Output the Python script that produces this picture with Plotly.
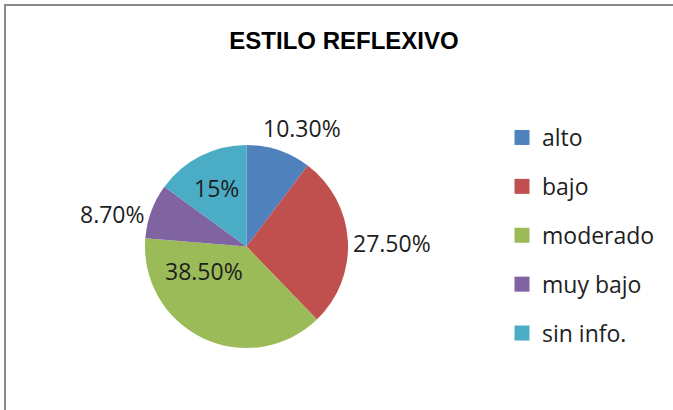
import plotly.graph_objects as go

# data
categories = ["alto", "bajo", "moderado", "muy bajo", "sin info."]
percentages = [10.3, 27.5, 38.5, 8.7, 15.0]
colors = ["#4F81BD", "#C0504D", "#9BBB59", "#8064A2", "#4BACC6"]

# where each percentage label sits (pixel centre in the 673x410 canvas), same order as categories
label_pos = [(302, 128), (392, 243), (204, 271), (112, 214), (216, 188)]

W, H = 673, 410
FONT = "Open Sans, Lato, sans-serif"


def fmt_pct(v):
    # the chart shows whole numbers without decimals (15%) and the rest with two
    return f"{v:.0f}%" if v == int(v) else f"{v:.2f}%"


fig = go.Figure()

fig.add_trace(go.Pie(
    labels=categories,
    values=percentages,
    sort=False,
    direction="clockwise",
    rotation=0,
    marker=dict(colors=colors, line=dict(width=0)),
    textinfo="none",
    hoverinfo="label+percent",
    showlegend=False,
    domain=dict(x=[145 / W, 348 / W], y=[62 / H, 265 / H]),
))

# legend entries (square swatches, one group each so the rows can be spaced out)
for name, col in zip(categories, colors):
    fig.add_trace(go.Scatter(
        x=[None], y=[None], mode="markers", name=name, legendgroup=name,
        marker=dict(symbol="square", size=15, color=col, line=dict(width=0)),
        hoverinfo="skip",
    ))

for v, (px, py) in zip(percentages, label_pos):
    fig.add_annotation(
        x=px / W, y=1 - py / H, xref="paper", yref="paper",
        text=fmt_pct(v), showarrow=False,
        xanchor="center", yanchor="middle",
        font=dict(family=FONT, size=23, color="#1e1e1e"),
    )

# chart-area frame (only the top and left edges are inside the crop)
fig.add_shape(
    type="rect", xref="paper", yref="paper",
    x0=5 / W, x1=1.05, y0=-0.05, y1=1 - 5 / H,
    line=dict(color="#8a8a8a", width=2),
)

fig.update_layout(
    width=W, height=H,
    margin=dict(l=0, r=0, t=0, b=0),
    paper_bgcolor="white",
    plot_bgcolor="white",
    title=dict(
        text="<b>ESTILO REFLEXIVO</b>",
        x=344 / W, xanchor="center",
        y=1 - 41 / H, yanchor="middle",
        font=dict(family="Liberation Sans, Arial, sans-serif", size=24, color="black"),
    ),
    legend=dict(
        x=502 / W, xanchor="left",
        y=1 - 116 / H, yanchor="top",
        traceorder="grouped",
        tracegroupgap=16,
        font=dict(family=FONT, size=23, color="#1e1e1e"),
        bgcolor="rgba(0,0,0,0)",
        borderwidth=0,
    ),
    xaxis=dict(visible=False),
    yaxis=dict(visible=False),
)

# drop the browser's default body margin so the figure starts at the page corner
fig.write_html(
    "out.html",
    config={"displayModeBar": False},
    post_script="document.body.style.margin='0';",
)
